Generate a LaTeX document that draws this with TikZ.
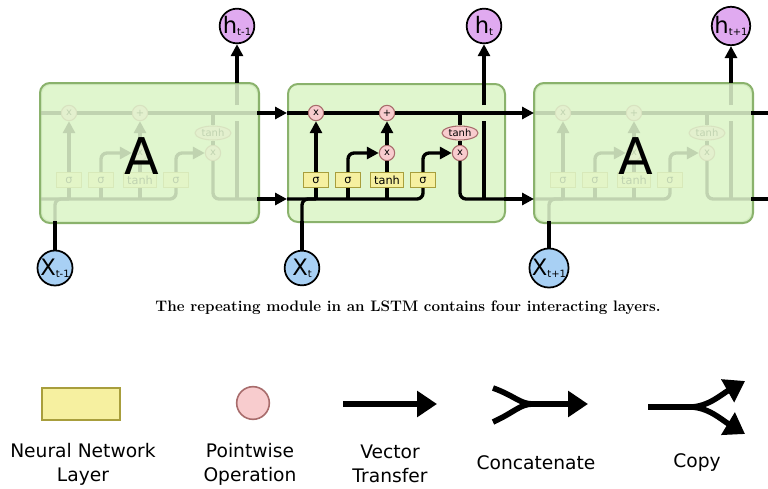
\documentclass[tikz,border=0pt]{standalone}
\usepackage{fontspec}
\usepackage{tikz}
\usetikzlibrary{arrows.meta,shapes.geometric}
\newfontfamily\dejavu{DejaVu Sans}
\definecolor{cellfill}{RGB}{224,246,206}
\definecolor{celledge}{RGB}{138,178,108}
\definecolor{layerfill}{RGB}{246,240,160}
\definecolor{layeredge}{RGB}{168,158,60}
\definecolor{opfill}{RGB}{248,204,206}
\definecolor{opedge}{RGB}{168,108,108}
\definecolor{hfill}{RGB}{224,170,240}
\definecolor{xfill}{RGB}{168,208,244}
\tikzset{x=0.75pt,y=-0.75pt,
    cellbox/.style={draw=celledge,fill=cellfill,line width=1.5pt,rounded corners=7.5pt},
    layer/.style={draw=layeredge,fill=layerfill,line width=0.8pt,minimum height=11.5pt,
        inner sep=0pt,font=\dejavu\fontsize{8.5}{8.5}\selectfont},
    pointop/.style={circle,draw=opedge,fill=opfill,line width=0.8pt,minimum size=11.5pt,
        inner sep=0pt,font=\dejavu\fontsize{7.5}{7.5}\selectfont},
    squash/.style={ellipse,draw=opedge,fill=opfill,line width=0.8pt,minimum width=27pt,
        minimum height=10.5pt,inner sep=0pt,font=\dejavu\fontsize{7.5}{7.5}\selectfont},
    state/.style={circle,draw=black,line width=1.3pt,minimum size=26pt,inner sep=0pt,
        font=\dejavu\fontsize{17}{17}\selectfont},
    hstate/.style={state,fill=hfill},
    xstate/.style={state,fill=xfill},
    flow/.style={line width=2.5pt},
    vec/.style={flow,-{Triangle[length=9pt,width=9pt]}},
    legend/.style={line width=4.2pt},
    legarrow/.style={legend,-{Triangle[length=15pt,width=19pt]}},
    legtext/.style={font=\dejavu\fontsize{14}{18}\selectfont,align=center}}
\newcommand\statelabel[2]{#1\raisebox{-0.2ex}{\fontsize{7.5}{7.5}\selectfont #2}}
\newcommand\lstmcell[2]{%
    \begin{scope}[shift={(#2,0)}]
    \node[cellbox,anchor=north west,minimum width=162.75pt,minimum height=103.5pt] (#1) at (0,83) {};
    \node[pointop] (#1-f) at (29,113) {x};
    \node[pointop] (#1-a) at (100,113) {+};
    \node[squash] (#1-tc) at (173,133) {tanh};
    \node[pointop] (#1-i) at (100,153) {x};
    \node[pointop] (#1-o) at (173,153) {x};
    \node[layer,minimum width=19pt] (#1-s1) at (29,180) {σ};
    \node[layer,minimum width=19pt] (#1-s2) at (61,180) {σ};
    \node[layer,minimum width=25pt] (#1-t) at (100,180) {tanh};
    \node[layer,minimum width=19pt] (#1-s3) at (136,180) {σ};
    \coordinate (#1-cin) at (0,113);
    \coordinate (#1-cout) at (217,113);
    \coordinate (#1-hin) at (0,199);
    \coordinate (#1-hout) at (217,199);
    \coordinate (#1-xb) at (15,221);
    \coordinate (#1-hb) at (197,199);
    \coordinate (#1-hg1) at (197,121);
    \coordinate (#1-hg2) at (197,105);
    \coordinate (#1-ht) at (197,83);
    \draw[flow] (#1-cin) -- (#1-f) -- (#1-a) -- (#1-cout);
    \draw[flow,rounded corners=4.5pt] (#1-hin) -| (#1-s3);
    \draw[flow,rounded corners=4.5pt] (#1-xb) |- (#1-s1.south |- #1-hin);
    \draw[flow] (#1-s1.south |- #1-hin) -- (#1-s1);
    \draw[flow] (#1-s2.south |- #1-hin) -- (#1-s2);
    \draw[flow] (#1-t.south |- #1-hin) -- (#1-t);
    \draw[vec] (#1-s1) -- (#1-f);
    \draw[vec,rounded corners=4.5pt] (#1-s2) |- (#1-i);
    \draw[flow] (#1-t) -- (#1-i);
    \draw[vec] (#1-i) -- (#1-a);
    \draw[vec,rounded corners=4.5pt] (#1-s3) |- (#1-o);
    \draw[flow] (#1-tc |- #1-cin) -- (#1-tc);
    \draw[flow] (#1-tc) -- (#1-o);
    \draw[flow,rounded corners=4.5pt] (#1-o) |- (#1-hout);
    \draw[flow] (#1-hb) -- (#1-hg1);
    \draw[flow] (#1-hg2) -- (#1-ht);
    \end{scope}}
\newcommand\fadecell[1]{%
    \draw[cellbox,fill opacity=0.86] (#1.north west) rectangle (#1.south east);
    \node[font=\dejavu\fontsize{38}{38}\selectfont] at ([xshift=-6pt,yshift=-2pt]#1.center) {A};}

\begin{document}
\begin{tikzpicture}
    \clip (0,0) rectangle (768,489);
    \fill[white] (0,0) rectangle (768,489);
    \lstmcell{L}{40}
    \lstmcell{M}{287}
    \lstmcell{R}{534}
    \fadecell{L}
    \fadecell{R}
    \node[hstate] (h1) at (237,26) {\statelabel{h}{t-1}};
    \node[hstate] (h2) at (484,26) {\statelabel{h}{t}};
    \node[hstate] (h3) at (731,26) {\statelabel{h}{t+1}};
    \node[xstate] (x1) at (55,268) {\statelabel{X}{t-1}};
    \node[xstate] (x2) at (302,268) {\statelabel{X}{t}};
    \node[xstate] (x3) at (549,268) {\statelabel{X}{t+1}};
    \draw[vec] (L-ht) -- (h1);
    \draw[vec] (M-ht) -- (h2);
    \draw[vec] (R-ht) -- (h3);
    \draw[flow] (x1) -- (L-xb);
    \draw[flow] (x2) -- (M-xb);
    \draw[flow] (x3) -- (R-xb);
    \coordinate (endc) at (780,113);
    \coordinate (endh) at (780,199);
    \draw[vec] (L-cout) -- (M-cin);
    \draw[vec] (L-hout) -- (M-hin);
    \draw[vec] (M-cout) -- (R-cin);
    \draw[vec] (M-hout) -- (R-hin);
    \draw[vec] (R-cout) -- (endc);
    \draw[vec] (R-hout) -- (endh);
    \node[font=\fontsize{11.4}{13}\bfseries] (caption) at (408,308) {The repeating module in an LSTM contains four interacting layers.};
    \node[layer,minimum width=58.5pt,minimum height=24pt,line width=1.5pt] (nnl) at (81,404) {};
    \node[pointop,minimum size=24.5pt,line width=1.2pt] (pwo) at (253,403) {};
    \coordinate (vt1) at (343,404);
    \coordinate (vt2) at (437,404);
    \draw[legarrow] (vt1) -- (vt2);
    \coordinate (cc1) at (493,388);
    \coordinate (cc2) at (493,422);
    \coordinate (ccj) at (533,404);
    \coordinate (cce) at (588,404);
    \draw[legend] (cc1) .. controls (515,396) and (520,404) .. (ccj);
    \draw[legend] (cc2) .. controls (515,412) and (520,404) .. (ccj);
    \draw[legarrow] (ccj) -- (cce);
    \coordinate (cp1) at (648,407);
    \coordinate (cpj) at (690,407);
    \coordinate (cpu) at (745,381);
    \coordinate (cpd) at (745,434);
    \draw[legend] (cp1) -- (cpj);
    \draw[legarrow] (cpj) .. controls (708,407) and (722,394) .. (cpu);
    \draw[legarrow] (cpj) .. controls (708,407) and (722,420) .. (cpd);
    \node[legtext] (nnltext) at (83,464) {Neural Network\\Layer};
    \node[legtext] (pwotext) at (250,464) {Pointwise\\Operation};
    \node[legtext] (vttext) at (390,464) {Vector\\Transfer};
    \node[legtext] (cctext) at (536,463) {Concatenate};
    \node[legtext] (cptext) at (697,463) {Copy};
\end{tikzpicture}
\end{document}
